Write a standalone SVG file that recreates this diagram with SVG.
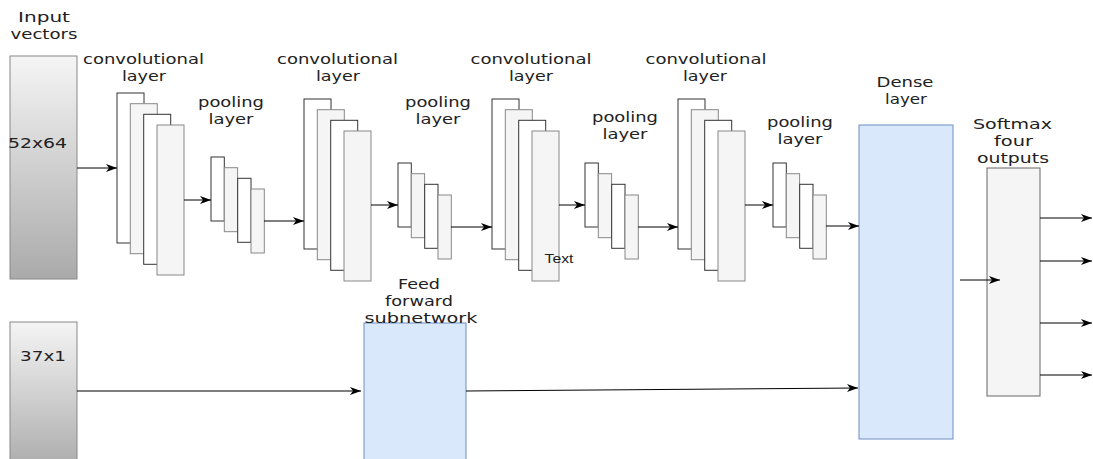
<svg xmlns="http://www.w3.org/2000/svg" width="1093" height="459" viewBox="0 0 1093 459">
  <style>
    text { font-family: "DejaVu Sans", Verdana, sans-serif; font-size: 14px; fill: #222; text-anchor: middle; }
    .fmap { fill: #ffffff; stroke: #333333; stroke-width: 1; }
    .fmap2 { fill: #f5f5f5; stroke: #888888; stroke-width: 1; }
    .input { fill: url(#grey); stroke: #888888; stroke-width: 1; }
    .blue { fill: #dae8fc; stroke: #6c8ebf; stroke-width: 1; }
    .soft { fill: #f5f5f5; stroke: #666666; stroke-width: 1; }
    .edge { fill: none; stroke: #000000; stroke-width: 1; marker-end: url(#arrow); }
  </style>
  <defs>
    <linearGradient id="grey" x1="0" y1="0" x2="0" y2="1">
      <stop offset="0" stop-color="#f5f5f5"/>
      <stop offset="1" stop-color="#aaaaaa"/>
    </linearGradient>
    <marker id="arrow" markerUnits="userSpaceOnUse" markerWidth="12" markerHeight="9" refX="11" refY="4.5" orient="auto">
      <path d="M0,0.5 L11,4.5 L0,8.5 L3,4.5 Z" fill="#000"/>
    </marker>
    <!-- stacked feature maps for a convolutional layer -->
    <g id="convStack">
      <rect class="fmap" x="0" y="0" width="27" height="150"/>
      <rect class="fmap2" x="13.3" y="10.7" width="27" height="150"/>
      <rect class="fmap" x="26.7" y="21.3" width="27" height="150"/>
      <rect class="fmap2" x="40" y="32" width="27" height="150"/>
    </g>
    <!-- stacked feature maps for a pooling layer -->
    <g id="poolStack">
      <rect class="fmap" x="0" y="0" width="13.3" height="64"/>
      <rect class="fmap2" x="13.3" y="10.7" width="13.3" height="64"/>
      <rect class="fmap" x="26.7" y="21.3" width="13.3" height="64"/>
      <rect class="fmap2" x="40" y="32" width="13.3" height="64"/>
    </g>
  </defs>

  <rect width="1093" height="459" fill="#ffffff"/>

  <!-- image input -->
  <g id="input-vectors">
    <rect class="input" x="10" y="56" width="67" height="223"/>
    <text x="44" y="22" textLength="52" lengthAdjust="spacingAndGlyphs">Input</text>
    <text x="44" y="39" textLength="67" lengthAdjust="spacingAndGlyphs">vectors</text>
    <text x="8" y="148" style="text-anchor:start" textLength="59" lengthAdjust="spacingAndGlyphs">52x64</text>
  </g>

  <!-- auxiliary input -->
  <g id="input-aux">
    <rect class="input" x="10" y="322" width="67" height="150"/>
    <text x="43" y="361" textLength="46" lengthAdjust="spacingAndGlyphs">37x1</text>
  </g>

  <g id="conv1">
    <use href="#convStack" x="117" y="93"/>
    <text x="143.5" y="64" textLength="121" lengthAdjust="spacingAndGlyphs">convolutional</text>
    <text x="144" y="81" textLength="44" lengthAdjust="spacingAndGlyphs">layer</text>
  </g>
  <g id="pool1">
    <use href="#poolStack" x="211" y="157"/>
    <text x="231" y="107" textLength="66" lengthAdjust="spacingAndGlyphs">pooling</text>
    <text x="231" y="124" textLength="45" lengthAdjust="spacingAndGlyphs">layer</text>
  </g>

  <g id="conv2">
    <use href="#convStack" x="304" y="99"/>
    <text x="337.5" y="64" textLength="121" lengthAdjust="spacingAndGlyphs">convolutional</text>
    <text x="338" y="81" textLength="44" lengthAdjust="spacingAndGlyphs">layer</text>
  </g>
  <g id="pool2">
    <use href="#poolStack" x="398" y="163"/>
    <text x="438" y="107" textLength="66" lengthAdjust="spacingAndGlyphs">pooling</text>
    <text x="438" y="124" textLength="45" lengthAdjust="spacingAndGlyphs">layer</text>
  </g>

  <g id="conv3">
    <use href="#convStack" x="492" y="99"/>
    <text x="531" y="64" textLength="121" lengthAdjust="spacingAndGlyphs">convolutional</text>
    <text x="531" y="81" textLength="44" lengthAdjust="spacingAndGlyphs">layer</text>
    <text x="559" y="263" style="font-family:'Liberation Sans', Arial, sans-serif; font-size:12px" textLength="29" lengthAdjust="spacingAndGlyphs">Text</text>
  </g>
  <g id="pool3">
    <use href="#poolStack" x="585" y="163"/>
    <text x="625" y="122" textLength="66" lengthAdjust="spacingAndGlyphs">pooling</text>
    <text x="625" y="139" textLength="45" lengthAdjust="spacingAndGlyphs">layer</text>
  </g>

  <g id="conv4">
    <use href="#convStack" x="678" y="99"/>
    <text x="706" y="64" textLength="121" lengthAdjust="spacingAndGlyphs">convolutional</text>
    <text x="705" y="81" textLength="44" lengthAdjust="spacingAndGlyphs">layer</text>
  </g>
  <g id="pool4">
    <use href="#poolStack" x="773" y="163"/>
    <text x="800" y="127" textLength="66" lengthAdjust="spacingAndGlyphs">pooling</text>
    <text x="800" y="144" textLength="45" lengthAdjust="spacingAndGlyphs">layer</text>
  </g>

  <g id="feed-forward">
    <rect class="blue" x="364" y="323" width="102" height="150"/>
    <text x="419" y="289" textLength="42" lengthAdjust="spacingAndGlyphs">Feed</text>
    <text x="419" y="306" textLength="68" lengthAdjust="spacingAndGlyphs">forward</text>
    <text x="421" y="323" textLength="113" lengthAdjust="spacingAndGlyphs">subnetwork</text>
  </g>

  <g id="dense">
    <rect class="blue" x="859" y="125" width="94" height="314"/>
    <text x="905" y="87" textLength="57" lengthAdjust="spacingAndGlyphs">Dense</text>
    <text x="906" y="104" textLength="42" lengthAdjust="spacingAndGlyphs">layer</text>
  </g>

  <g id="softmax">
    <rect class="soft" x="987" y="168" width="53" height="228"/>
    <text x="1012.5" y="129" textLength="79" lengthAdjust="spacingAndGlyphs">Softmax</text>
    <text x="1013.5" y="146" textLength="39" lengthAdjust="spacingAndGlyphs">four</text>
    <text x="1013" y="163" textLength="72" lengthAdjust="spacingAndGlyphs">outputs</text>
  </g>

  <g id="connectors">
    <path class="edge" d="M77,168 H117"/>
    <path class="edge" d="M184,200 H211"/>
    <path class="edge" d="M264,221 H304"/>
    <path class="edge" d="M371,205 H398"/>
    <path class="edge" d="M451,227 H492"/>
    <path class="edge" d="M559,205 H585"/>
    <path class="edge" d="M638,227 H678"/>
    <path class="edge" d="M745,205 H773"/>
    <path class="edge" d="M826,226 H859"/>
    <path class="edge" d="M77,391 H361"/>
    <path class="edge" d="M466,391 L858,388"/>
    <path class="edge" d="M960,280 H1000"/>
    <path class="edge" d="M1040,218 H1092"/>
    <path class="edge" d="M1040,261 H1092"/>
    <path class="edge" d="M1040,323 H1092"/>
    <path class="edge" d="M1040,375 H1092"/>
  </g>
</svg>
